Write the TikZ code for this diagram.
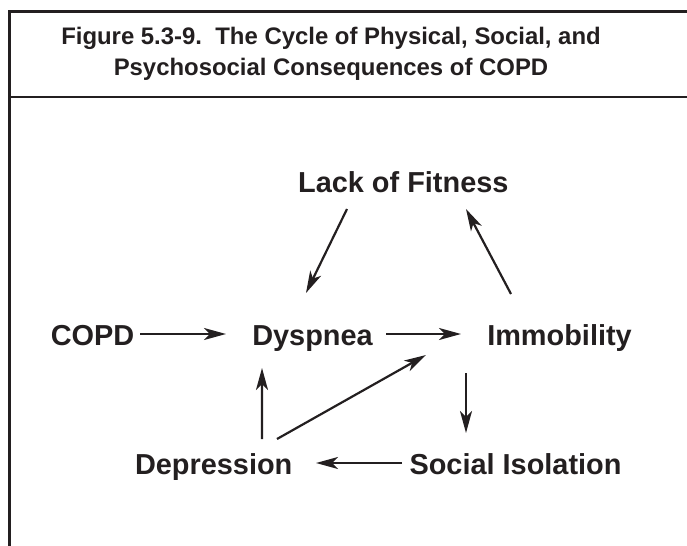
\documentclass[tikz,border=0pt]{standalone}
\usepackage{fontspec}
\setmainfont{Liberation Sans}
\usetikzlibrary{arrows.meta}
\definecolor{ink}{HTML}{231F20}
\tikzset{
  lbl/.style={anchor=base, inner sep=0pt, text=ink, font=\fontsize{29}{34}\selectfont\bfseries},
  ttl/.style={anchor=base, inner sep=0pt, text=ink, font=\fontsize{24}{29}\selectfont\bfseries},
  arr/.style={draw=ink, line width=2.2bp, -{Stealth[length=22bp, width=12bp, inset=6bp]}},
  frame/.style={draw=ink, line width=2.6bp}
}
\begin{document}
\begin{tikzpicture}[x=1bp, y=-1bp]
\useasboundingbox (0,0) rectangle (687,546);
% frame
\draw[frame] (687,11.5) -- (9.5,11.5) -- (9.5,546);
\draw[frame] (9.5,97) -- (687,97);
% title
\node[ttl] (t1) at (331,45) {Figure 5.3-9.\ \ The Cycle of Physical, Social, and};
\node[ttl] (t2) at (331,76) {Psychosocial Consequences of COPD};
% nodes
\node[lbl] (lack) at (403.3,193) {Lack of Fitness};
\node[lbl] (copd) at (92.5,345) {COPD};
\node[lbl] (dys) at (312.5,345) {Dyspnea};
\node[lbl] (imm) at (559.5,345) {Immobility};
\node[lbl] (dep) at (213.7,474) {Depression};
\node[lbl] (soc) at (515.5,474) {Social Isolation};
% connectors
\draw[arr] ([shift={(47.5,-11)}]copd.base) -- ([shift={(-86.5,-11)}]dys.base);
\draw[arr] ([shift={(73.5,-11)}]dys.base) -- ([shift={(-98.5,-11)}]imm.base);
\draw[arr] ([shift={(-56.3,16)}]lack.base) -- ([shift={(-6.5,-52)}]dys.base);
\draw[arr] ([shift={(-48.5,-51)}]imm.base) -- ([shift={(62.7,16)}]lack.base);
\draw[arr] ([shift={(-93.5,28)}]imm.base) -- ([shift={(-49.5,-41)}]soc.base);
\draw[arr] ([shift={(-113.5,-11)}]soc.base) -- ([shift={(102.3,-11)}]dep.base);
\draw[arr] ([shift={(48.3,-35)}]dep.base) -- ([shift={(-50.5,23)}]dys.base);
\draw[arr] ([shift={(63.3,-35)}]dep.base) -- ([shift={(-133.5,10)}]imm.base);
\end{tikzpicture}
\end{document}
